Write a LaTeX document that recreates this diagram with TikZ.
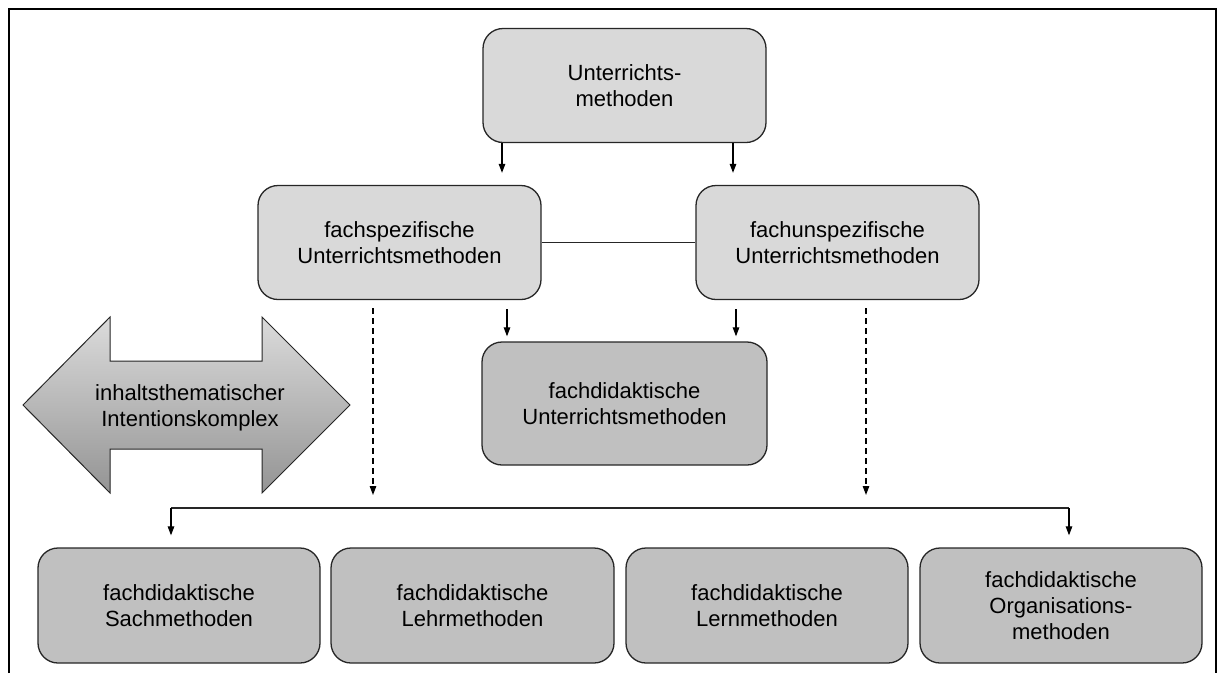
\documentclass[tikz,border=0pt]{standalone}
\usepackage{fontspec}
\setmainfont{Liberation Sans}
\usetikzlibrary{arrows.meta}
\definecolor{boxlight}{HTML}{D9D9D9}
\definecolor{boxdark}{HTML}{C0C0C0}
\definecolor{edge}{HTML}{262626}
\tikzset{
  box/.style={draw=edge, line width=1.3pt, rounded corners=20pt, rectangle,
    inner sep=0pt, align=center, font=\fontsize{22}{26}\selectfont,
    execute at begin node={\rule{0pt}{24pt}}},
  upper/.style={box, fill=boxlight, minimum width=283pt, minimum height=114pt},
  lower/.style={box, fill=boxdark, minimum width=283pt, minimum height=115pt},
  arr/.style={line width=1.2pt, -{Triangle[length=9pt,width=6.5pt]}},
  dasharr/.style={arr, dash pattern=on 6pt off 4pt},
}
\begin{document}
\begin{tikzpicture}[x=1pt, y=-1pt]
  \useasboundingbox (0,0) rectangle (1221,673);
  % outer frame, open at the bottom
  \draw[line width=2pt] (9,673) -- (9,9) -- (1216,9) -- (1216,673);

  % boxes
  \node[upper] (top) at (624.5,85.5) {Unterrichts-\\methoden};
  \node[upper] (fs)  at (399.5,242.5) {fachspezifische\\Unterrichtsmethoden};
  \node[upper] (fu)  at (837.5,242.5) {fachunspezifische\\Unterrichtsmethoden};
  \node[lower, minimum width=285pt, minimum height=123pt] (fd) at (624.5,403.5)
    {fachdidaktische\\Unterrichtsmethoden};
  \node[lower, minimum width=282pt] (b1) at (179,605.5) {fachdidaktische\\Sachmethoden};
  \node[lower] (b2) at (472.5,605.5) {fachdidaktische\\Lehrmethoden};
  \node[lower, minimum width=282pt] (b3) at (767,605.5) {fachdidaktische\\Lernmethoden};
  \node[lower, minimum width=282pt] (b4) at (1061,605.5) {fachdidaktische\\Organisations-\\methoden};

  % double arrow on the left
  \path[draw=edge, line width=1pt, top color=black!14, bottom color=black!42]
    (23,405) -- (110,317) -- (110,361) -- (262,361) -- (262,317) -- (350,405)
    -- (262,493) -- (262,449) -- (110,449) -- (110,493) -- cycle;
  \node[align=center, font=\fontsize{22}{26}\selectfont] (ik) at (190,408)
    {inhaltsthematischer\\Intentionskomplex};

  % top box to the two middle boxes
  \coordinate (t1) at (502,143);
  \coordinate (t2) at (733,143);
  \draw[arr, shorten >=12pt] (t1 |- top.south) -- (t1 |- fs.north);
  \draw[arr, shorten >=12pt] (t2 |- top.south) -- (t2 |- fu.north);

  % link between the middle boxes
  \draw[line width=1.4pt, edge] (fs.east) -- (fu.west);

  % middle boxes to the central box
  \coordinate (c1) at (507,300);
  \coordinate (c2) at (736,300);
  \draw[arr, shorten <=9pt, shorten >=5pt] (c1 |- fs.south) -- (c1 |- fd.north);
  \draw[arr, shorten <=9pt, shorten >=5pt] (c2 |- fu.south) -- (c2 |- fd.north);

  % dashed arrows
  \coordinate (dl) at (373,495);
  \coordinate (dr) at (866,495);
  \draw[dasharr, shorten <=8pt] (dl |- fs.south) -- (dl);
  \draw[dasharr, shorten <=8pt] (dr |- fu.south) -- (dr);

  % bracket over the bottom row
  \coordinate (bl) at (171,508);
  \coordinate (br) at (1069,508);
  \draw[line width=1.4pt, edge] (bl) -- (br);
  \draw[arr, shorten >=12pt] (bl) -- (bl |- b1.north);
  \draw[arr, shorten >=12pt] (br) -- (br |- b4.north);
\end{tikzpicture}
\end{document}
